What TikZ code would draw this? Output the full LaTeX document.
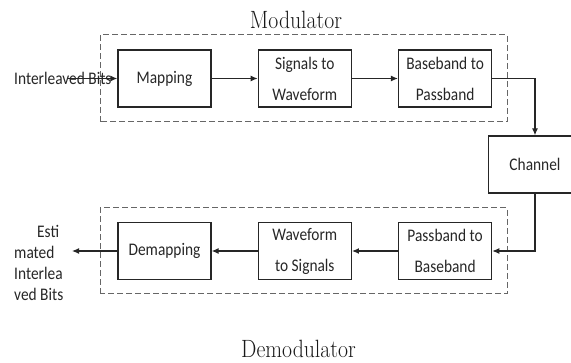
\documentclass[tikz,border=0pt]{standalone}
\usepackage{fontspec}
\newfontfamily\blockfont[FakeStretch=0.87]{Carlito}
\newfontfamily\titlefont[FakeStretch=0.87]{Latin Modern Roman}
\usetikzlibrary{positioning,arrows.meta}

\begin{document}
\begin{tikzpicture}[x=1pt,y=1pt,>={Latex[length=7pt,width=6pt]},
    block/.style={draw=black!85,line width=1.3pt,minimum width=93pt,minimum height=57pt,inner sep=2pt,align=center,font=\blockfont\fontsize{17.7}{31}\selectfont,text=black!85},
    label text/.style={inner sep=0pt,align=left,font=\blockfont\fontsize{17.7}{21}\selectfont,text=black!85},
    title/.style={inner sep=0pt,anchor=base,font=\titlefont\fontsize{25}{30}\selectfont,text=black!90},
    group/.style={draw=black!60,dash pattern=on 6pt off 3pt,line width=1pt},
    link/.style={->,draw=black!85,line width=1.2pt}]
  \useasboundingbox (0,0) rectangle (571,362);
  \clip (0,0) rectangle (571,362);

  \draw [group] (100,240) rectangle (507,327);
  \draw [group] (100,68) rectangle (507,154);

  \node [block] (map) at (164.5,283.5) {Mapping};
  \node [block,right=46pt of map] (sig) {Signals to\\Waveform};
  \node [block,right=46pt of sig] (bb) {Baseband to\\Passband};
  \node [block] (chan) at (535,197.5) {Channel};
  \node [block] (demap) at (164.5,111) {Demapping};
  \node [block,right=46pt of demap] (wav) {Waveform\\to Signals};
  \node [block,right=46pt of wav] (pb) {Passband to\\Baseband};

  \node [label text,anchor=west] (inbits) at (14,283.5) {Interleaved Bits};
  \node [label text,anchor=west] (outbits) at (14,98.7) {\hspace*{23pt}Esti\\mated\\Interlea\\ved Bits};

  \node [title] (modtitle) at (296,333) {Modulator};
  \node [title] (demodtitle) at (298.5,5) {Demodulator};

  \coordinate (bitsin) at (67,283.5);
  \coordinate (bitsout) at (72,111);

  \draw [link] (bitsin) -- (map);
  \draw [link] (map) -- (sig);
  \draw [link] (sig) -- (bb);
  \draw [link] (bb) -| (chan);
  \draw [link] (chan) |- (pb);
  \draw [link] (pb) -- (wav);
  \draw [link] (wav) -- (demap);
  \draw [link] (demap) -- (bitsout);
\end{tikzpicture}
\end{document}
